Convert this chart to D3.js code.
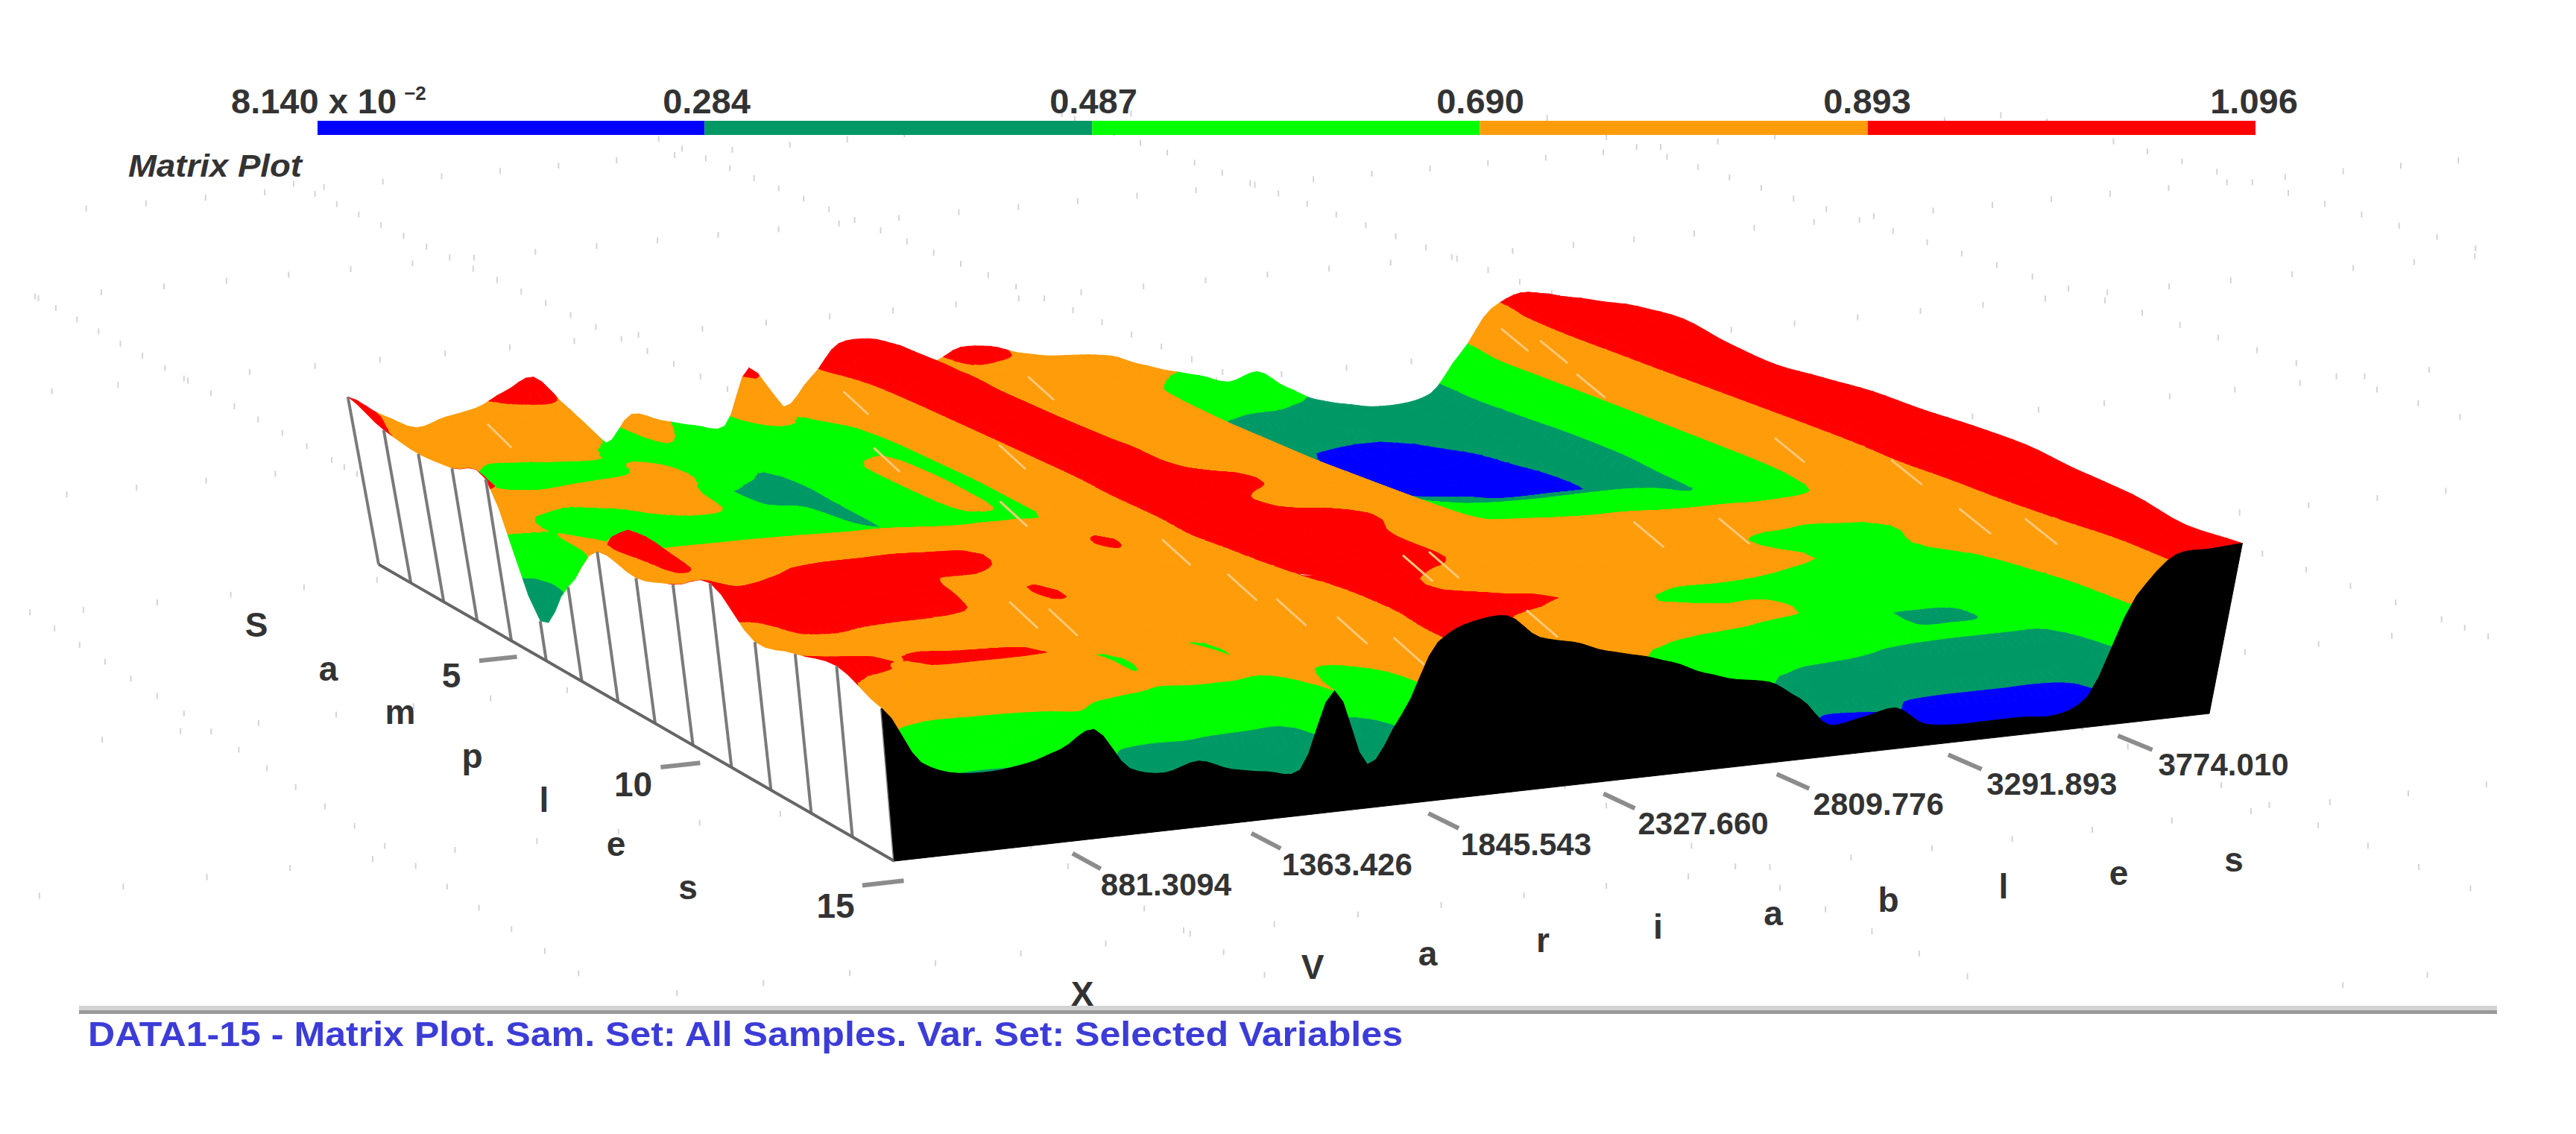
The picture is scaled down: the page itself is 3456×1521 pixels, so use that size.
<!DOCTYPE html>
<html><head><meta charset="utf-8">
<script src="https://cdn.jsdelivr.net/npm/d3@7"></script>
<style>html,body{margin:0;background:#fff}svg{display:block}text{font-family:"Liberation Sans",Arial,sans-serif;font-weight:700;fill:#333}</style>
</head><body><svg id="c" width="3456" height="1521"></svg>
<script>
// ---- data: percent of the colour range, one row per sample (1..15), one entry per variable step
const s01=[89,78,70,74,77,84,90,72,52,66,61,57,55,84,62,76,92,93,88,78,84,83,78,75,74,72,66,61,57,52,56,46,38,34,31,31,35,55,77,84,82];
const s02=[81,71,65,61,62,64,64,58,54,60,55,45,40,52,55,61,84,90,88,80,77,75,73,72,72,66,56,44,36,30,24,18,16,16,20,26,36,62,81,85,87];
const s03=[78,66,58,55,54,55,58,61,59,52,38,34,35,50,57,56,83,90,87,79,74,72,71,70,70,64,52,42,34,26,20,16,13,12,13,18,32,62,83,89,92];
const s04=[80,68,64,63,65,66,66,63,58,50,44,42,36,60,62,56,83,90,87,78,73,72,71,70,70,63,50,40,33,26,20,17,15,14,14,16,24,62,83,90,94];
const s05=[84,62,58,56,58,61,63,61,39,45,46,45,38,61,63,56,83,90,87,78,73,72,71,70,70,63,50,41,33,27,24,23,22,19,19,19,24,62,83,88,90];
const s06=[21,58,60,56,56,56,56,55,52,50,50,50,50,60,61,58,83,90,87,80,74,72,71,70,70,63,52,44,38,34,33,32,32,33,33,34,36,62,83,87,88];
const s07=[49,62,64,62,62,62,62,62,62,62,62,61,60,60,60,61,83,90,87,80,75,72,71,70,69,64,52,48,45,43,42,42,42,42,42,41,40,62,83,88,90];
const s08=[77,86,72,70,70,70,70,70,70,70,70,70,70,70,70,72,83,90,88,84,82,76,72,70,69,65,56,52,50,49,48,48,47,47,47,47,50,62,83,89,92];
const s09=[74,84,72,73,74,74,74,74,74,74,73,72,71,71,71,73,83,90,88,80,76,73,71,70,69,66,60,59,58,57,57,56,55,55,55,55,57,65,83,89,92];
const s10=[81,77,78,80,82,83,83,83,82,81,76,72,74,82,74,77,83,90,88,85,84,81,74,70,69,68,67,66,66,66,66,65,65,65,64,65,66,72,84,90,93];
const s11=[92,88,88,88,87,86,85,79,79,78,72,70,70,71,71,74,82,89,88,85,83,77,72,70,69,68,67,67,66,65,64,61,59,58,57,58,60,69,84,90,93];
const s12=[74,82,82,82,82,82,81,76,74,81,72,70,70,70,70,73,80,87,87,84,82,78,72,69,68,66,65,64,63,63,62,61,60,57,56,58,62,70,84,88,90];
const s13=[79,77,78,76,74,73,72,71,66,54,66,67,56,68,68,70,77,84,82,78,74,72,70,68,66,62,59,57,58,57,56,54,52,39,38,39,52,66,83,86,88];
const s14=[84,83,78,81,81,81,80,77,70,63,67,68,64,68,61,66,78,82,84,84,82,80,74,72,70,68,66,64,62,55,48,44,42,41,41,41,42,62,81,82,83];
const s15=[75,47,40,39,41,46,54,33,29,33,27,24,23,60,22,45,78,86,87,75,71,65,61,56,49,44,41,31,16,18,21,11,9,9,9,8,16,64,82,83,84];
const rows=[s01,s02,s03,s04,s05,s06,s07,s08,s09,s10,s11,s12,s13,s14,s15];
const legendValues=[0.0814,0.284,0.487,0.690,0.893,1.096];
const legendLabels=["8.140 x 10","0.284","0.487","0.690","0.893","1.096"];
const bandColors=["#0000ff","#009966","#00ff00","#ff9c0a","#ff0000"];
const xTicks=[881.3094,1363.426,1845.543,2327.660,2809.776,3291.893,3774.010];
const xTickLabels=["881.3094","1363.426","1845.543","2327.660","2809.776","3291.893","3774.010"];
const sampleTicks=[5,10,15];
const gridU=[-1.5,-1.1,-0.7,-0.3,0.1,0.5,0.9,1.3,1.7,2.1,2.5];
const gridF=[-1.55,-1.15,-0.75,-0.35,0.05,0.45,0.85,1.25,1.65];
// pale scratches on the surface, as (fraction of variable range, fraction of sample range)
const streakU=[.532,.331,.382,.376,.373,.206,.221,.386,.393,.51,.531,.509,.702,.935,.94,.905,.925,.962,.924,.948,.76,.096,.384,.323,.41];
const streakF=[.076,.472,.635,.753,.836,.766,.798,.902,.972,.752,.75,.938,.725,.07,.125,.252,.52,.623,.785,.833,.741,.056,.064,.263,.294];

// ---- scales
const nRows=rows.length,nCols=rows[0].length;
const toValue=d3.scaleLinear([0,100],[0.0814,1.096]);
const toZ=d3.scaleLinear([0.0814,1.096],[0,1]);
const colIndexToU=d3.scaleLinear([0,nCols-1],[0,1]);
const sampleToF=d3.scaleLinear([1,15],[0,1]);
const variableToU=d3.scaleLinear([454,4102],[0,1]);
const legendX=d3.scaleLinear([0.0814,1.096],[426,3026]);
const labelX=d3.scaleLinear([0.284,1.096],[948,3024]);
const matrix=rows.map(r=>r.map(p=>toValue(p)));

// ---- 3D projection: floor corners and vertical vanishing point
const BL=[508,757],BR=[2068,598],FR=[2964,957],FL=[1200,1155],VP=[1720,7350],L=-0.037;
const dx1=BR[0]-FR[0],dx2=FL[0]-FR[0],sx=BL[0]-BR[0]+FR[0]-FL[0];
const dy1=BR[1]-FR[1],dy2=FL[1]-FR[1],sy=BL[1]-BR[1]+FR[1]-FL[1];
const den=dx1*dy2-dx2*dy1;
const G=(sx*dy2-dx2*sy)/den,H=(dx1*sy-sx*dy1)/den;
const A=BR[0]-BL[0]+G*BR[0],B=FL[0]-BL[0]+H*FL[0],D=BR[1]-BL[1]+G*BR[1],E=FL[1]-BL[1]+H*FL[1];
function project(u,f,z){
  const W=1+G*u+H*f+z*L;
  return [(A*u+B*f+BL[0]+z*L*VP[0])/W,(D*u+E*f+BL[1]+z*L*VP[1])/W];
}
const svg=d3.select("#c");

// ---- smooth reading of the matrix between its cells (low-tension Hermite)
const K=0.35;
function herm(p0,p1,p2,p3,t){
  const m1=(p2-p0)*K,m2=(p3-p1)*K,t2=t*t,t3=t2*t;
  return (2*t3-3*t2+1)*p1+(t3-2*t2+t)*m1+(-2*t3+3*t2)*p2+(t3-t2)*m2;
}
const at=(r,c)=>matrix[Math.max(0,Math.min(nRows-1,r))][Math.max(0,Math.min(nCols-1,c))];
function val(r,c,x,y){
  const row=k=>herm(at(k,c-1),at(k,c),at(k,c+1),at(k,c+2),x);
  return herm(row(r-1),row(r),row(r+1),row(r+2),y);
}

// ---- background dotted floor grid
let dots="";
function dot(u,f){const p=project(u,f,0);if(p[0]>40&&p[0]<3340&&p[1]>150&&p[1]<1335)dots+=`M${p[0].toFixed(1)} ${(p[1]-4).toFixed(1)}v8`;}
gridU.forEach(u=>d3.range(-1.7,2.8,0.06).forEach(f=>dot(u,f)));
gridF.forEach(f=>d3.range(-1.7,3.0,0.06).forEach(u=>dot(u,f)));
svg.append("path").attr("d",dots).attr("stroke","#d4d4d4").attr("stroke-width",2).attr("fill","none");

// ---- surface: triangles clipped into colour bands, painted far to near
const edges=[-1,...legendValues.slice(1,5),9];
function clip(poly,level,keepAbove){
  const out=[];
  for(let i=0;i<poly.length;i++){
    const a=poly[i],b=poly[(i+1)%poly.length];
    const ai=keepAbove?a[2]>=level:a[2]<=level,bi=keepAbove?b[2]>=level:b[2]<=level;
    if(ai)out.push(a);
    if(ai!==bi){const t=(level-a[2])/(b[2]-a[2]);out.push([a[0]+t*(b[0]-a[0]),a[1]+t*(b[1]-a[1]),level]);}
  }
  return out;
}
const segs=[];
function addPoly(poly,color){
  const d="M"+poly.map(q=>{const p=project(q[0],q[1],toZ(q[2]));return p[0].toFixed(1)+" "+p[1].toFixed(1);}).join("L")+"Z";
  const last=segs[segs.length-1];
  if(last&&last.color===color&&last.n<400){last.d+=d;last.n++;}else segs.push({color,d,n:1});
}
function addTri(t){
  const zs=t.map(q=>q[2]);
  const lo=d3.min(zs),hi=d3.max(zs);
  for(let k=0;k<5;k++){
    if(hi<edges[k]||lo>edges[k+1])continue;
    let p=clip(t,edges[k],true);
    if(p.length)p=clip(p,edges[k+1],false);
    if(p.length>2)addPoly(p,bandColors[k]);
  }
}
const SUB=4;
for(let r=0;r<nRows-1;r++)for(let a=0;a<SUB;a++){
  for(let c=nCols-2;c>=0;c--)for(let b=SUB-1;b>=0;b--){
    const x0=b/SUB,x1=(b+1)/SUB,y0=a/SUB,y1=(a+1)/SUB;
    const U=x=>colIndexToU(c+x),F=y=>sampleToF(r+1+y);
    const q00=[U(x0),F(y0),val(r,c,x0,y0)],q10=[U(x1),F(y0),val(r,c,x1,y0)],q01=[U(x0),F(y1),val(r,c,x0,y1)],q11=[U(x1),F(y1),val(r,c,x1,y1)];
    addTri([q00,q10,q11]);
    addTri([q00,q11,q01]);
  }
}
svg.append("g").selectAll("path").data(segs).join("path")
  .attr("d",d=>d.d).attr("fill",d=>d.color).attr("stroke",d=>d.color).attr("stroke-width",0.9).attr("stroke-linejoin","round");

const line=d3.line();
// scratches
svg.append("g").selectAll("path").data(streakU).join("path")
  .attr("d",(u,i)=>{const f=streakF[i];return line([project(u,f-0.022,0.73),project(u,f+0.022,0.67)]);})
  .attr("stroke","#ffc877").attr("stroke-width",3).attr("stroke-linecap","round").attr("fill","none");

// ---- left wall (white, ruled per sample)
const wallSteps=d3.range(0,(nRows-1)*SUB+1).map(i=>i/SUB);
const wallTop=wallSteps.map(t=>{const r=Math.min(nRows-2,Math.floor(t));return project(0,sampleToF(t+1),toZ(val(r,0,0,t-r)));});
const leftTop=matrix.map((r,i)=>project(0,sampleToF(i+1),toZ(r[0])));
const leftFloor=matrix.map((r,i)=>project(0,sampleToF(i+1),0));
svg.append("path").attr("d",line([...wallTop,...leftFloor.slice().reverse()])+"Z").attr("fill","#fff");
svg.append("g").selectAll("path").data(d3.range(nRows)).join("path")
  .attr("d",i=>line([leftTop[i],leftFloor[i]])).attr("stroke","#7a7a7a").attr("stroke-width",4).attr("fill","none");
svg.append("path").attr("d",line(leftFloor)).attr("stroke","#666").attr("stroke-width",4).attr("fill","none");

// ---- front wall (black)
const frontSteps=d3.range(0,(nCols-1)*SUB+1).map(i=>i/SUB);
const frontTop=frontSteps.map(t=>{const c=Math.min(nCols-2,Math.floor(t));return project(colIndexToU(t),1,toZ(val(nRows-2,c,t-c,1)));});
svg.append("path").attr("d",line([...frontTop,project(1,1,0),project(0,1,0)])+"Z").attr("fill","#000").attr("stroke","#000").attr("stroke-width",1);

// ---- axes
svg.append("g").selectAll("path").data(xTicks).join("path")
  .attr("d",v=>{const u=variableToU(v);return line([project(u,1.03,0),project(u,1.075,0)]);})
  .attr("stroke","#8c8c8c").attr("stroke-width",6);
svg.append("g").selectAll("text").data(xTicks).join("text")
  .attr("x",v=>project(variableToU(v)+0.022,1.13,0)[0]).attr("y",v=>project(variableToU(v)+0.022,1.13,0)[1]+15)
  .attr("text-anchor","middle").attr("font-size",42).text((v,i)=>xTickLabels[i]);
svg.append("g").selectAll("path.st").data(sampleTicks).join("path")
  .attr("d",s=>line([project(-0.045,sampleToF(s)+0.05,0),project(-0.015,sampleToF(s)+0.05,0)]))
  .attr("stroke","#8c8c8c").attr("stroke-width",6);
svg.append("g").selectAll("text").data(sampleTicks).join("text")
  .attr("x",s=>project(-0.09,sampleToF(s)+0.11,0)[0]).attr("y",s=>project(-0.09,sampleToF(s)+0.11,0)[1]+5)
  .attr("text-anchor","middle").attr("font-size",46).text(d=>d);
const sampLetters="Samples".split(""),varLetters="X Variables".split("");
svg.append("g").selectAll("text").data(sampLetters).join("text")
  .attr("x",(d,i)=>344+96.5*i).attr("y",(d,i)=>854+58.7*i).attr("text-anchor","middle").attr("font-size",46).text(d=>d);
svg.append("g").selectAll("text").data(varLetters).join("text")
  .attr("x",(d,i)=>1452+154.5*i).attr("y",(d,i)=>1349-18*i).attr("text-anchor","middle").attr("font-size",46).text(d=>d);

// ---- legend
svg.append("g").selectAll("rect").data(bandColors).join("rect")
  .attr("x",(d,i)=>legendX(legendValues[i])).attr("width",(d,i)=>legendX(legendValues[i+1])-legendX(legendValues[i]))
  .attr("y",162).attr("height",19).attr("fill",d=>d);
svg.append("g").selectAll("text").data(legendValues.slice(1)).join("text")
  .attr("x",d=>labelX(d)).attr("y",152).attr("text-anchor","middle").attr("font-size",47).text((d,i)=>legendLabels[i+1]);
const first=svg.append("text").attr("x",310).attr("y",152).attr("font-size",47).text(legendLabels[0]);
first.append("tspan").attr("dx",10).attr("dy",-18).attr("font-size",26).text("\u22122");
svg.append("text").attr("x",172).attr("y",237).attr("font-size",42).attr("font-style","italic").attr("textLength",233).attr("lengthAdjust","spacingAndGlyphs").text("Matrix Plot");

// ---- bottom rule and caption
svg.append("rect").attr("x",106).attr("y",1349).attr("width",3244).attr("height",7).attr("fill","#d2d2d2");
svg.append("rect").attr("x",106).attr("y",1355).attr("width",3244).attr("height",5).attr("fill","#9a9a9a");
svg.append("text").attr("x",118).attr("y",1403).attr("font-size",46).attr("textLength",1764).attr("lengthAdjust","spacingAndGlyphs")
  .style("fill","#3c3cd8").text("DATA1-15 - Matrix Plot. Sam. Set: All Samples. Var. Set: Selected Variables");
</script></body></html>
